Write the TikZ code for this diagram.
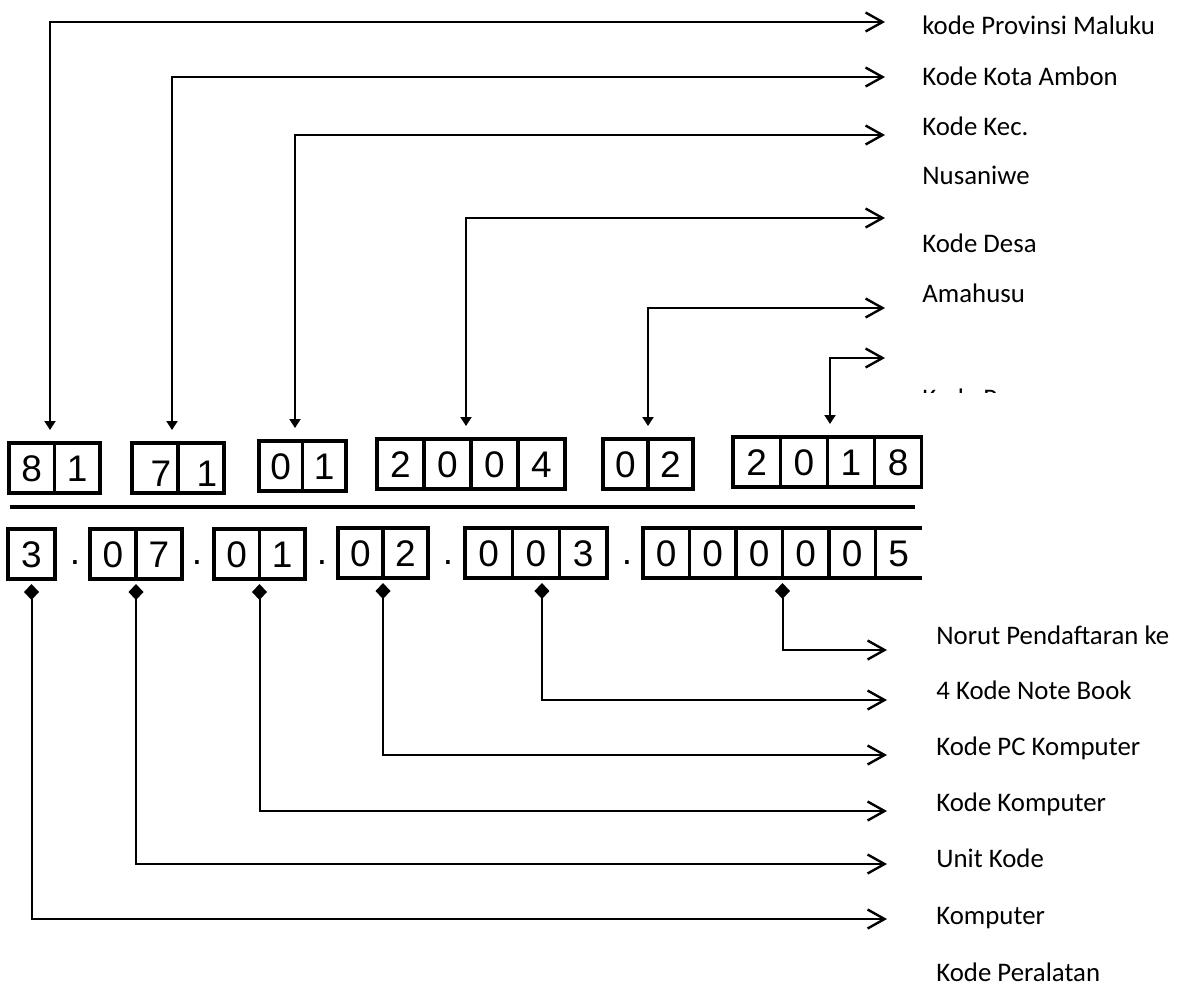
\documentclass[tikz,border=0pt]{standalone}
\usepackage{fontspec}
\usetikzlibrary{arrows.meta,positioning}
\newfontfamily\digitfont{Liberation Sans}
\newfontfamily\labelfont{Carlito}
\newcommand{\nudged}[1]{\hspace*{6pt}\raisebox{-2.5pt}{#1}}

\tikzset{
  cell/.style={draw,line width=1.6pt,outer sep=0pt,inner sep=0pt,
    minimum width=#1,minimum height=25pt,text height=13.5pt,text depth=0pt,
    font=\digitfont\fontsize{18.5}{20}\selectfont},
  cell/.default=23pt,
  sepdot/.style={inner sep=0pt,font=\digitfont\fontsize{18.5}{20}\selectfont},
  lab/.style={anchor=base west,inner sep=0pt,font=\labelfont\fontsize{13.4}{15}\selectfont},
  toplink/.style={line width=1pt,shorten <=6.5pt,
    {Triangle[length=4.5pt,width=5.5pt]}-{Straight Barb[length=8.5pt,width=9.5pt,line width=1.2pt]}},
  botlink/.style={line width=1pt,shorten <=2.5pt,
    {Diamond[length=8pt,width=7.5pt]}-{Straight Barb[length=8.5pt,width=9.5pt,line width=1.2pt]}}
}

\begin{document}
\begin{tikzpicture}[x=0.5pt,y=-0.5pt]
\useasboundingbox (0,0) rectangle (1177,987);

\node[cell=22.75pt] (t1a) at (31.75,468) {8};
\node[cell=22.75pt,right=0pt of t1a] (t1b) {1};

\node[cell=23pt] (t2a) at (155,468) {\nudged{7}};
\node[cell=23pt,right=0pt of t2a] (t2b) {\nudged{1}};

\node[cell=21.75pt] (t3a) at (280.75,466) {0};
\node[cell=21.75pt,right=0pt of t3a] (t3b) {1};

\node[cell=23.5pt] (t4a) at (400.5,464) {2};
\node[cell=23.5pt,right=0pt of t4a] (t4b) {0};
\node[cell=23.5pt,right=0pt of t4b] (t4c) {0};
\node[cell=23.5pt,right=0pt of t4c] (t4d) {4};

\node[cell=22.5pt] (t5a) at (625.5,464) {0};
\node[cell=22.5pt,right=0pt of t5a] (t5b) {2};

\node[cell=23.6pt] (t6a) at (756.6,462) {2};
\node[cell=23.6pt,right=0pt of t6a] (t6b) {0};
\node[cell=23.6pt,right=0pt of t6b] (t6c) {1};
\node[cell=23.6pt,right=0pt of t6c] (t6d) {8};

\draw[line width=2pt] (10,507) -- (915,507);

\node[cell=23.5pt] (b1) at (31.5,554) {3};
\node[sepdot] (d1) at (75,563) {.};
\node[cell] (b2a) at (113,554) {0};
\node[cell,right=0pt of b2a] (b2b) {7};
\node[sepdot] (d2) at (197,563) {.};
\node[cell=22.75pt] (b3a) at (236.75,554) {0};
\node[cell=22.75pt,right=0pt of b3a] (b3b) {1};
\node[sepdot] (d3) at (322,563) {.};
\node[cell=22.5pt] (b4a) at (360.5,553) {0};
\node[cell=22.5pt,right=0pt of b4a] (b4b) {2};
\node[sepdot] (d4) at (448,563) {.};
\node[cell=23.65pt] (b5a) at (488.65,553) {0};
\node[cell=23.65pt,right=0pt of b5a] (b5b) {0};
\node[cell=23.65pt,right=0pt of b5b] (b5c) {3};
\node[sepdot] (d5) at (627,563) {.};
\node[cell=23.25pt] (b6a) at (666.25,553) {0};
\node[cell=23.25pt,right=0pt of b6a] (b6b) {0};
\node[cell=23.25pt,right=0pt of b6b] (b6c) {0};
\node[cell=23.25pt,right=0pt of b6c] (b6d) {0};
\node[cell=23.25pt,right=0pt of b6d] (b6e) {0};
\node[cell=23.25pt,draw=none,right=0pt of b6e] (b6f) {5};
\draw[line width=1.6pt] (b6f.north west) -- (b6f.north east) (b6f.south west) -- (b6f.south east);

\coordinate (p1) at (885,22);
\coordinate (p2) at (885,77);
\coordinate (p3) at (885,135);
\coordinate (p4) at (885,218);
\coordinate (p5) at (885,308);
\coordinate (p6) at (885,358);

\coordinate (q1) at (887,650);
\coordinate (q2) at (887,700);
\coordinate (q3) at (887,755);
\coordinate (q4) at (887,811);
\coordinate (q5) at (887,864);
\coordinate (q6) at (887,919);

\draw[toplink] ([xshift=-2.25pt]t1a.north east) |- (p1);
\draw[toplink] ([xshift=-3pt]t2a.north east) |- (p2);
\draw[toplink] ([xshift=-3.75pt]t3a.north east) |- (p3);
\draw[toplink] ([xshift=-2.5pt]t4b.north east) |- (p4);
\draw[toplink] (t5a.north east) |- (p5);
\draw[toplink] ([xshift=1.3pt]t6b.north east) |- (p6);

\draw[botlink] (b1.south) |- (q6);
\draw[botlink] (b2a.south east) |- (q5);
\draw[botlink] (b3a.south east) |- (q4);
\draw[botlink] (b4a.south east) |- (q3);
\draw[botlink] ([xshift=3pt]b5b.south) |- (q2);
\draw[botlink] (b6c.south east) |- (q1);

\node[lab] (l1) at (922,34) {kode Provinsi Maluku};
\node[lab] (l2) at (922,85) {Kode Kota Ambon};
\node[lab] (l3) at (922,135) {Kode Kec.};
\node[lab] (l3b) at (922,184) {Nusaniwe};
\node[lab] (l4) at (922,252) {Kode Desa};
\node[lab] (l4b) at (922,302) {Amahusu};
\begin{scope}
\clip (915,375) rectangle (1010,392);
\node[lab] (l5) at (922,407) {Kode P};
\end{scope}

\node[lab] (m1) at (936,644) {Norut Pendaftaran ke};
\node[lab] (m2) at (936,699) {4 Kode Note Book};
\node[lab] (m3) at (936,755) {Kode PC Komputer};
\node[lab] (m4) at (936,811) {Kode Komputer};
\node[lab] (m5) at (936,867) {Unit Kode};
\node[lab] (m6) at (936,924) {Komputer};
\node[lab] (m7) at (936,981) {Kode Peralatan};
\end{tikzpicture}
\end{document}
